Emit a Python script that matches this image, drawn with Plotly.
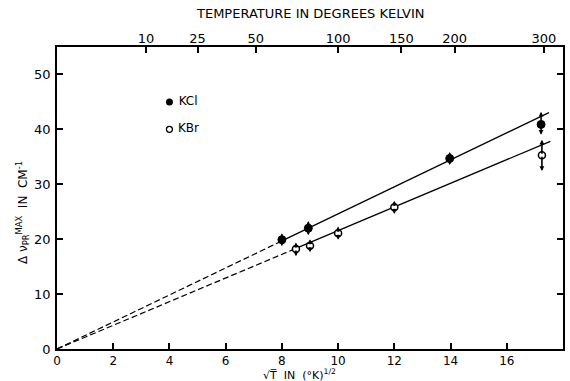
import plotly.graph_objects as go

# ---- data ----
kcl_x = [8.0, 8.94, 13.97, 17.22]
kcl_y = [19.9, 22.0, 34.7, 40.9]
kcl_err_up = [1.2, 1.3, 1.2, 2.3]
kcl_err_dn = [1.2, 1.3, 1.2, 1.9]

kbr_x = [8.5, 9.0, 10.0, 12.0, 17.25]
kbr_y = [18.2, 18.8, 21.1, 25.8, 35.3]
kbr_err_up = [1.2, 1.2, 1.2, 1.2, 2.8]
kbr_err_dn = [1.3, 1.2, 1.2, 1.2, 2.9]

kcl_slope = 2.46
kbr_slope = 2.155
kcl_fit_x = [0.0, 8.0, 17.5]   # dashed start, solid start, solid end
kbr_fit_x = [0.0, 8.5, 17.55]

top_temps = [10, 25, 50, 100, 150, 200, 300]
x_ticks = [0, 2, 4, 6, 8, 10, 12, 14, 16, 18]
y_ticks = [0, 10, 20, 30, 40, 50]

legend_x = [4.0, 4.0]
legend_y = [45.0, 40.0]
legend_names = ["KCl", "KBr"]

FONT = "DejaVu Sans"
fig = go.Figure()

def fit_traces(xs, slope):
    fig.add_trace(go.Scatter(x=[xs[0], xs[1]], y=[slope * xs[0], slope * xs[1]],
                             mode="lines", line=dict(color="black", width=1.2, dash="6px,3px"),
                             showlegend=False, hoverinfo="skip"))
    fig.add_trace(go.Scatter(x=[xs[1], xs[2]], y=[slope * xs[1], slope * xs[2]],
                             mode="lines", line=dict(color="black", width=1.3),
                             showlegend=False, hoverinfo="skip"))

fit_traces(kcl_fit_x, kcl_slope)
fit_traces(kbr_fit_x, kbr_slope)

annotations = []
def arrows(xs, ys, ups, dns):
    for x, y, u, d in zip(xs, ys, ups, dns):
        for yy in (y + u, y - d):
            annotations.append(dict(x=x, y=yy, ax=x, ay=y, xref="x", yref="y",
                                    axref="x", ayref="y", showarrow=True, text="",
                                    arrowhead=2, arrowsize=0.6, arrowwidth=1.6,
                                    arrowcolor="black", standoff=0, startstandoff=0))

arrows(kcl_x, kcl_y, kcl_err_up, kcl_err_dn)
arrows(kbr_x, kbr_y, kbr_err_up, kbr_err_dn)

fig.add_trace(go.Scatter(x=kcl_x, y=kcl_y, mode="markers", name="KCl",
                         marker=dict(symbol="circle", size=8, color="black",
                                     line=dict(color="black", width=1)),
                         showlegend=False))
fig.add_trace(go.Scatter(x=kbr_x, y=kbr_y, mode="markers", name="KBr",
                         marker=dict(symbol="circle", size=7, color="white",
                                     line=dict(color="black", width=1.5)),
                         showlegend=False))

# legend key drawn inside the plot
fig.add_trace(go.Scatter(x=[legend_x[0]], y=[legend_y[0]], mode="markers+text",
                         text=[" " + legend_names[0]], textposition="middle right",
                         textfont=dict(family=FONT, size=12, color="black"),
                         marker=dict(symbol="circle", size=7, color="black"),
                         showlegend=False, hoverinfo="skip"))
fig.add_trace(go.Scatter(x=[legend_x[1]], y=[legend_y[1]], mode="markers+text",
                         text=[" " + legend_names[1]], textposition="middle right",
                         textfont=dict(family=FONT, size=12, color="black"),
                         marker=dict(symbol="circle", size=6, color="white",
                                     line=dict(color="black", width=1.3)),
                         showlegend=False, hoverinfo="skip"))

# invisible trace to activate top axis
fig.add_trace(go.Scatter(x=[0, 18], y=[0, 0], xaxis="x2", mode="markers",
                         marker=dict(opacity=0), showlegend=False, hoverinfo="skip"))

fig.update_layout(
    width=570, height=381,
    margin=dict(l=57, r=5, t=47, b=32),
    paper_bgcolor="white", plot_bgcolor="white",
    font=dict(family=FONT, size=13, color="black"),
    annotations=annotations + [
        dict(text="TEMPERATURE IN DEGREES KELVIN", xref="paper", yref="paper",
             x=0.5, y=1.0, yshift=34, showarrow=False, xanchor="center", yanchor="middle",
             font=dict(family=FONT, size=13)),
        dict(text="Δ ν<sub>PR</sub><sup>MAX</sup>  IN  CM<sup>-1</sup>", xref="paper", yref="paper",
             x=0, xshift=-34, y=0.45, textangle=-90, showarrow=False,
             xanchor="center", yanchor="middle", font=dict(family=FONT, size=12)),
        dict(text="√T\u0305  IN  (°K)<sup>1/2</sup>",
             xref="paper", yref="paper", x=0.48, y=0, yshift=-16, showarrow=False,
             xanchor="center", yanchor="top", font=dict(family=FONT, size=11)),
    ],
    xaxis=dict(range=[0, 18], tickvals=x_ticks, ticks="inside", ticklen=6, tickwidth=1.5,
               tickcolor="black", showline=True, linecolor="black", linewidth=1.5,
               mirror=True, showgrid=False, zeroline=False, ticklabelstandoff=0,
               tickfont=dict(family=FONT, size=12)),
    xaxis2=dict(range=[0, 18], overlaying="x", side="top",
                tickvals=[t ** 0.5 for t in top_temps], ticktext=[str(t) for t in top_temps],
                ticks="inside", ticklen=6, tickwidth=1.5, tickcolor="black",
                showline=False, showgrid=False, zeroline=False,
                tickfont=dict(family=FONT, size=13)),
    yaxis=dict(range=[0, 55], tickvals=y_ticks, ticks="inside", ticklen=6, tickwidth=1.5,
               tickcolor="black", showline=True, linecolor="black", linewidth=1.5,
               mirror="ticks", showgrid=False, zeroline=False, ticklabelstandoff=2,
               tickfont=dict(family=FONT, size=13)),
)

fig.write_html("out.html")
